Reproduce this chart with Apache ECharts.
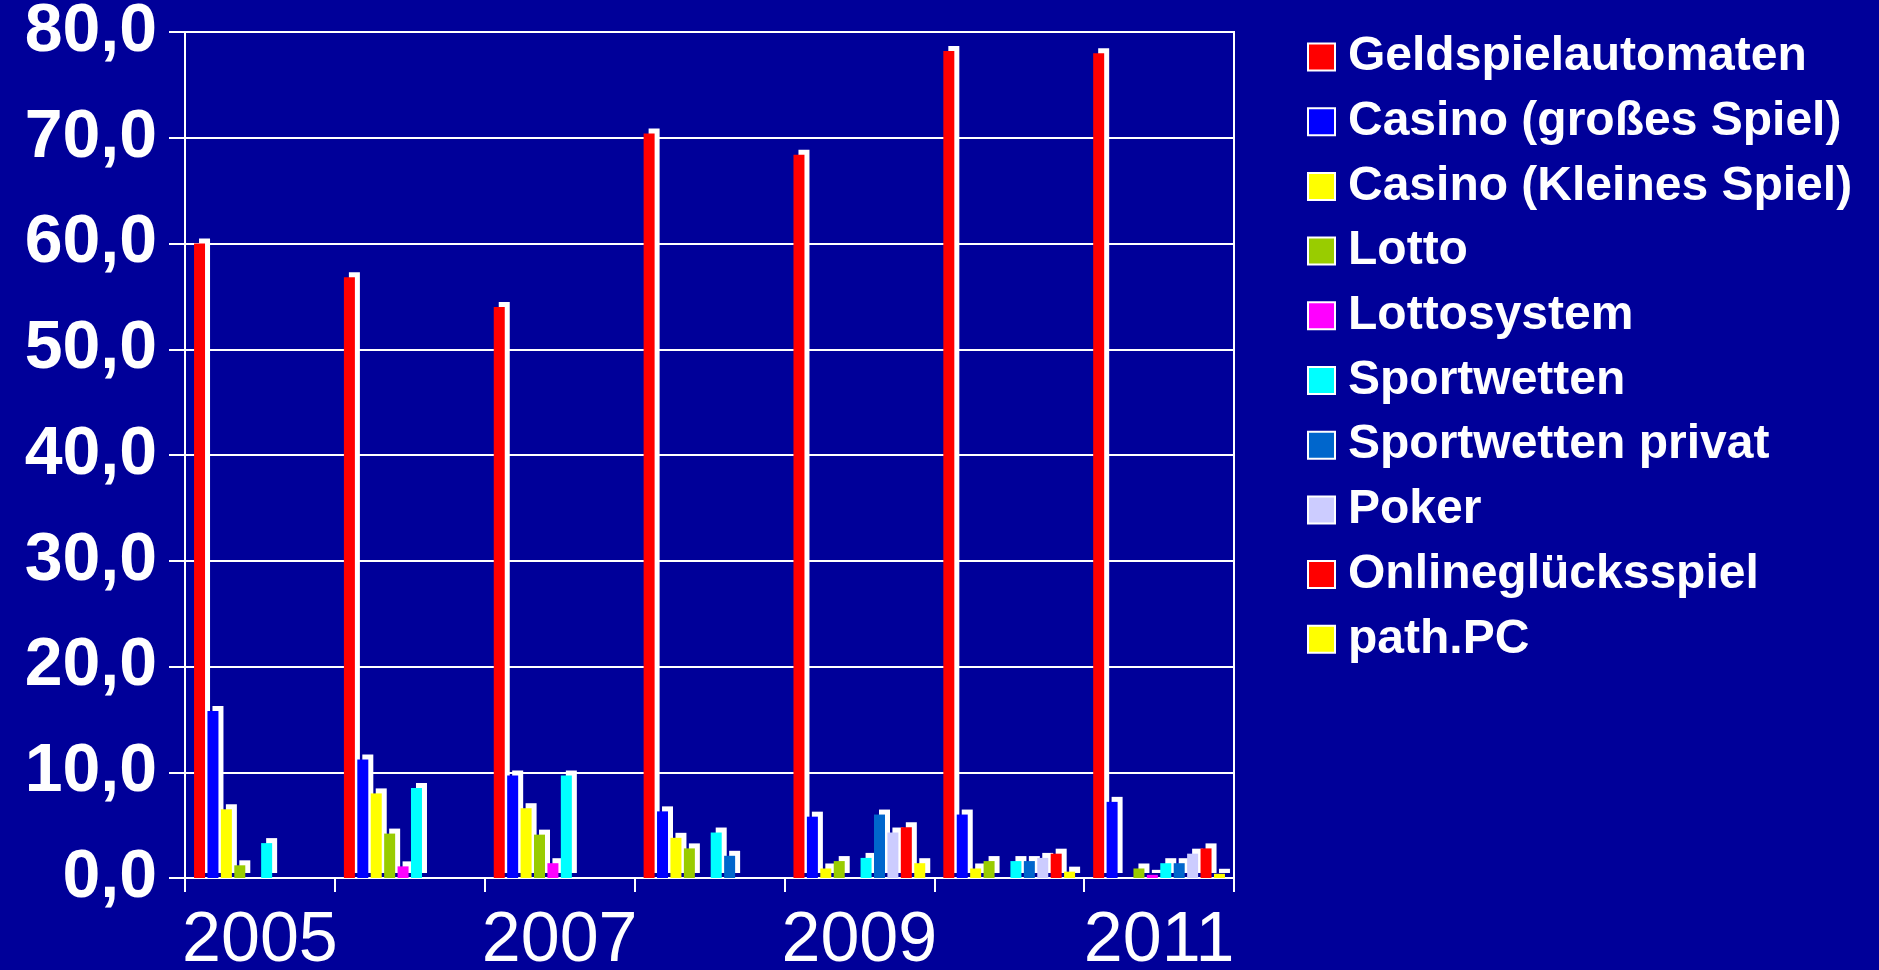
<!DOCTYPE html>
<html>
<head>
<meta charset="utf-8">
<title>Glücksspiel</title>
<script src="https://cdn.jsdelivr.net/npm/echarts@6/dist/echarts.min.js"></script>
<style>
  html, body { margin: 0; padding: 0; background: #000099; }
  #chart { width: 1879px; height: 970px; }
</style>
</head>
<body>
<div id="chart"></div>
<script>
// categories
const years = ["2005", "2006", "2007", "2008", "2009", "2010", "2011"];

// series values
const geldspielautomaten = [60.0, 56.8, 54.0, 70.4, 68.4, 78.2, 78.0];
const casinoGross = [15.8, 11.2, 9.7, 6.3, 5.8, 6.0, 7.2];
const casinoKlein = [6.5, 8.0, 6.6, 3.8, 0.9, 0.9, 0];
const lotto = [1.2, 4.2, 4.1, 2.8, 1.6, 1.6, 0.9];
const lottosystem = [0, 1.1, 1.4, 0, 0, 0, 0.3];
const sportwetten = [3.3, 8.5, 9.7, 4.3, 1.9, 1.6, 1.4];
const sportwettenPrivat = [0, 0, 0, 2.1, 6.0, 1.6, 1.4];
const poker = [0, 0, 0, 0, 4.3, 1.9, 2.3];
const onlinegluecksspiel = [0, 0, 0, 0, 4.8, 2.3, 2.8];
const pathPC = [0, 0, 0, 0, 1.4, 0.6, 0.4];

const names = [
  "Geldspielautomaten", "Casino (großes Spiel)", "Casino (Kleines Spiel)",
  "Lotto", "Lottosystem", "Sportwetten", "Sportwetten privat",
  "Poker", "Onlineglücksspiel", "path.PC"
];
const colors = ["#FF0000", "#0000FF", "#FFFF00", "#99CC00", "#FF00FF",
  "#00FFFF", "#0066CC", "#CCCCFF", "#FF0000", "#FFFF00"];
const values = [geldspielautomaten, casinoGross, casinoKlein, lotto, lottosystem,
  sportwetten, sportwettenPrivat, poker, onlinegluecksspiel, pathPC];

const font = "'Liberation Sans', Arial, sans-serif";

const chart = echarts.init(document.getElementById("chart"));

// white drop shadow up/right gives the 3D-ish look of the original
const series = names.map((name, i) => ({
  name: name,
  type: "bar",
  barWidth: 11,
  barGap: "22%",
  animation: false,
  data: values[i].map(v => (v === 0 ? null : v)),
  itemStyle: {
    color: colors[i],
    borderWidth: 0,
    shadowColor: "#ffffff",
    shadowBlur: 0,
    shadowOffsetX: 5,
    shadowOffsetY: -5
  }
}));

chart.setOption({
  backgroundColor: "#000099",
  grid: {
    left: 185,
    right: 645,
    top: 32,
    bottom: 92,
    outerBoundsMode: "none",
    containLabel: false,
    show: true,
    borderColor: "#ffffff",
    borderWidth: 2,
    backgroundColor: "transparent"
  },
  legend: {
    orient: "vertical",
    left: 1302,
    top: 28,
    itemWidth: 27,
    itemHeight: 27,
    itemGap: 16.7,
    icon: "rect",
    itemStyle: {
      borderColor: "#ffffff",
      borderWidth: 2,
      shadowBlur: 0,
      shadowOffsetX: 0,
      shadowOffsetY: 0,
      shadowColor: "transparent"
    },
    textStyle: {
      color: "#ffffff",
      fontFamily: font,
      fontWeight: "bold",
      fontSize: 48,
      lineHeight: 43,
      padding: [0, 0, 0, 8]
    },
    data: names
  },
  xAxis: {
    type: "category",
    data: years,
    axisLine: { lineStyle: { color: "#ffffff", width: 2 } },
    axisTick: { show: true, interval: 0, length: 14, lineStyle: { color: "#ffffff", width: 2 } },
    axisLabel: {
      interval: 1,
      color: "#ffffff",
      fontFamily: font,
      fontSize: 70,
      margin: 29
    },
    splitLine: { show: false }
  },
  yAxis: {
    type: "value",
    min: 0,
    max: 80,
    interval: 10,
    axisLine: { show: true, lineStyle: { color: "#ffffff", width: 2 } },
    axisTick: { show: true, length: 16, lineStyle: { color: "#ffffff", width: 2 } },
    axisLabel: {
      color: "#ffffff",
      fontFamily: font,
      fontWeight: "bold",
      fontSize: 68,
      margin: 28,
      formatter: v => v.toFixed(1).replace(".", ",")
    },
    splitLine: { lineStyle: { color: "#ffffff", width: 2 } }
  },
  series: series
});
</script>
</body>
</html>
